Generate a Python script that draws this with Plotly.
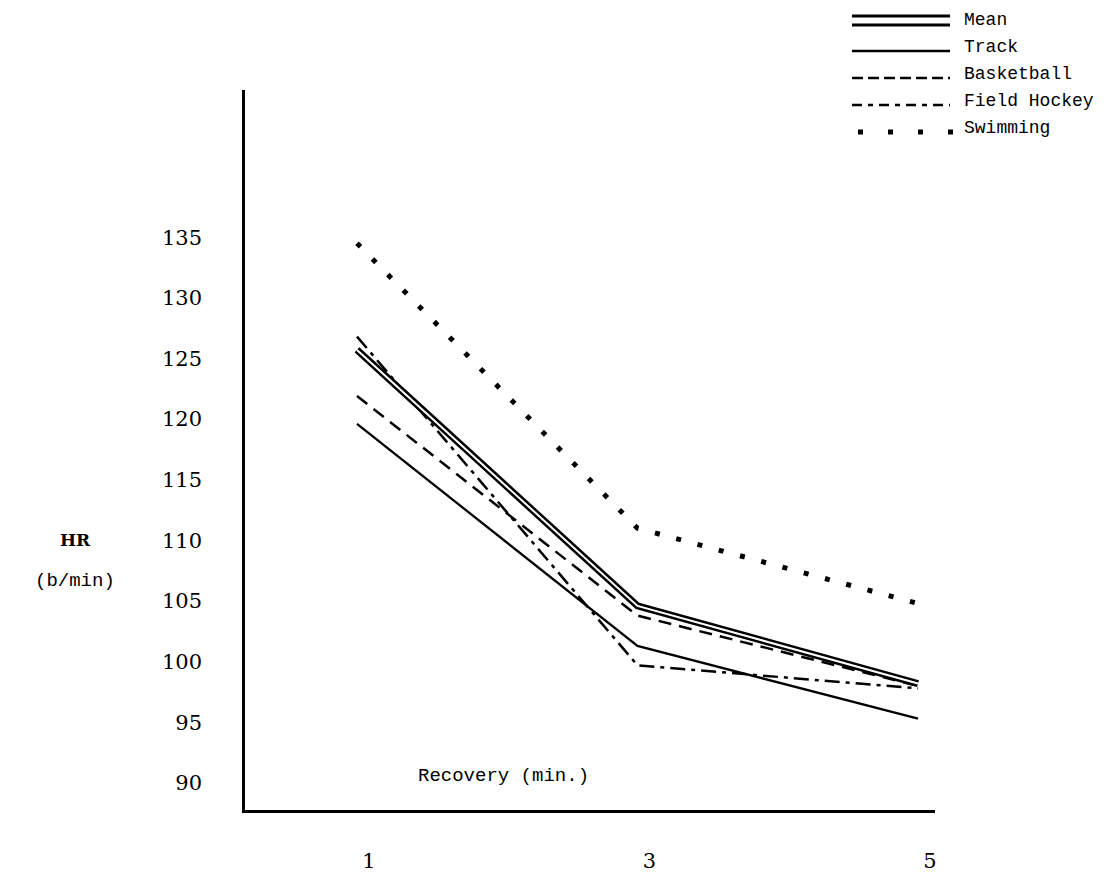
import plotly.graph_objects as go

# ---- data ----
recovery_min = [1, 3, 5]
mean_hr = [125.7, 104.6, 98.2]
track_hr = [119.6, 101.3, 95.3]
basketball_hr = [121.9, 103.8, 98.0]
field_hockey_hr = [126.8, 99.7, 97.8]
swimming_hr = [134.5, 111.0, 104.8]
y_ticks = [90, 95, 100, 105, 110, 115, 120, 125, 130, 135]
x_ticks = [1, 3, 5]

W, H = 1111, 885
L, R, T, B = 245, 935, 90, 810

def px(x):
    return (x - L) / (R - L)

def py(y):
    return (B - y) / (B - T)

fig = go.Figure()

def add(y, dash, width=2):
    fig.add_trace(go.Scatter(x=recovery_min, y=y, mode="lines",
                             line=dict(color="black", width=width, dash=dash),
                             showlegend=False, hoverinfo="skip"))

add(track_hr, "solid", 2.3)
add(basketball_hr, "13px,8px", 2.5)
add(field_hockey_hr, "15px,6px,4px,6px", 2.5)
add(swimming_hr, "5px,17px", 5)
# mean as a double line
add(mean_hr, "solid", 7)
fig.add_trace(go.Scatter(x=recovery_min, y=mean_hr, mode="lines",
                         line=dict(color="white", width=2),
                         showlegend=False, hoverinfo="skip"))

mono = "Liberation Mono"
serif = "DejaVu Serif"

# manual legend
legend_items = [
    ("Mean", "double", 20),
    ("Track", "solid", 47),
    ("Basketball", "11px,5px", 74),
    ("Field Hockey", "10px,6px,5px,6px", 101),
    ("Swimming", "5px,25px", 128),
]
shapes = []
annotations = []
x0, x1 = 852, 950
for name, style, yc in legend_items:
    if style == "double":
        for dy in (-4, 5):
            shapes.append(dict(type="line", xref="paper", yref="paper",
                               x0=px(x0), x1=px(x1), y0=py(yc + dy), y1=py(yc + dy),
                               line=dict(color="black", width=2.8)))
    else:
        lw = 5 if style == "5px,25px" else 2.5
        xs = x0 + 6 if style == "5px,25px" else x0
        shapes.append(dict(type="line", xref="paper", yref="paper",
                           x0=px(xs), x1=px(x1 + 10 if style == "5px,25px" else x1),
                           y0=py(yc + 4), y1=py(yc + 4),
                           line=dict(color="black", width=lw, dash=style)))
    annotations.append(dict(text=name, xref="paper", yref="paper",
                            x=px(962), y=py(yc), xanchor="left", yanchor="middle",
                            showarrow=False, font=dict(family=mono, size=18, color="black")))

annotations += [
    dict(text="<b>HR</b>", xref="paper", yref="paper", x=px(75), y=py(540),
         xanchor="center", yanchor="middle", showarrow=False,
         font=dict(family=serif, size=17, color="black")),
    dict(text="(b/min)", xref="paper", yref="paper", x=px(75), y=py(581),
         xanchor="center", yanchor="middle", showarrow=False,
         font=dict(family=mono, size=19, color="black")),
    dict(text="Recovery (min.)", xref="paper", yref="paper", x=px(503), y=py(776),
         xanchor="center", yanchor="middle", showarrow=False,
         font=dict(family=mono, size=19, color="black")),
]

fig.update_layout(
    width=W, height=H,
    margin=dict(l=L, r=W - R, t=T, b=H - B),
    paper_bgcolor="white", plot_bgcolor="white",
    showlegend=False,
    shapes=shapes, annotations=annotations,
    xaxis=dict(range=[1 - (357 - L) / 140.25, 5 + (R - 918) / 140.25],
               tickvals=x_ticks, ticktext=[str(v) for v in x_ticks],
               showgrid=False, zeroline=False, showline=True, linecolor="black", linewidth=2.5,
               ticks="", ticklabelstandoff=30, ticklabelshift=12,
               tickfont=dict(family=serif, size=21, color="black")),
    yaxis=dict(range=[90 - (B - 783) / 12.13, 90 + (783 - T) / 12.13],
               tickvals=y_ticks, ticktext=[str(v) for v in y_ticks],
               showgrid=False, zeroline=False, showline=True, linecolor="black", linewidth=2.5,
               ticks="", ticklabelstandoff=36,
               tickfont=dict(family=serif, size=21, color="black")),
)

fig.write_html("out.html")
